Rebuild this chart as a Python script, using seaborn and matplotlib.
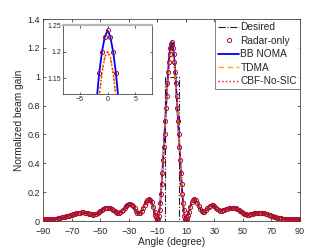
import numpy as np
import pandas as pd
import matplotlib
matplotlib.use("Agg")
import matplotlib.pyplot as plt
import seaborn as sns

# ── data ────────────────────────────────────────────────────────────────────
angle_left = np.arange(-90, -12, 1.0)      # -90 .. -13
angle_main = np.arange(-12, 12.5, 0.5)     # -12 .. 12
angle_right = np.arange(13, 91, 1.0)       # 13 .. 90

bb_left = [0.011, 0.011, 0.011, 0.012, 0.012, 0.013, 0.014, 0.015, 0.016, 0.017,
           0.019, 0.021, 0.023, 0.025, 0.027, 0.030, 0.032, 0.035, 0.038, 0.041,
           0.044, 0.047, 0.050, 0.053, 0.055, 0.057, 0.059, 0.060, 0.060, 0.059,
           0.057, 0.054, 0.051, 0.048, 0.046, 0.045, 0.046, 0.049, 0.054, 0.060,
           0.067, 0.074, 0.081, 0.087, 0.091, 0.093, 0.092, 0.088, 0.082, 0.075,
           0.068, 0.062, 0.058, 0.057, 0.060, 0.067, 0.077, 0.089, 0.101, 0.111,
           0.117, 0.118, 0.113, 0.102, 0.087, 0.071, 0.059, 0.054, 0.058, 0.071,
           0.090, 0.111, 0.130, 0.145, 0.152, 0.148, 0.130, 0.100]
bb_main = [0.063, 0.043, 0.025, 0.011, 0.004, 0.012, 0.035, 0.075, 0.125, 0.185,
           0.255, 0.335, 0.425, 0.515, 0.605, 0.695, 0.785, 0.870, 0.955, 1.035,
           1.105, 1.160, 1.200, 1.228, 1.240,
           1.228, 1.200, 1.160, 1.105, 1.035, 0.955, 0.870, 0.785, 0.695, 0.605,
           0.515, 0.425, 0.335, 0.255, 0.185, 0.125, 0.075, 0.035, 0.012, 0.004,
           0.011, 0.025, 0.043, 0.063]
bb_right = [0.100, 0.130, 0.148, 0.152, 0.145, 0.128, 0.106, 0.085, 0.070, 0.062,
            0.064, 0.074, 0.087, 0.099, 0.107, 0.110, 0.108, 0.101, 0.091, 0.081,
            0.074, 0.071, 0.072, 0.075, 0.079, 0.083, 0.086, 0.088, 0.090, 0.091,
            0.091, 0.090, 0.087, 0.082, 0.076, 0.069, 0.062, 0.055, 0.050, 0.047,
            0.045, 0.045, 0.046, 0.048, 0.051, 0.054, 0.056, 0.058, 0.059, 0.059,
            0.058, 0.056, 0.053, 0.050, 0.047, 0.043, 0.040, 0.036, 0.033, 0.030,
            0.027, 0.024, 0.022, 0.020, 0.018, 0.017, 0.016, 0.015, 0.014, 0.014,
            0.013, 0.013, 0.013, 0.012, 0.012, 0.012, 0.012, 0.012]

tdma_left = [0.012, 0.012, 0.012, 0.013, 0.013, 0.014, 0.015, 0.016, 0.017, 0.018,
             0.020, 0.022, 0.024, 0.026, 0.028, 0.031, 0.033, 0.036, 0.039, 0.042,
             0.045, 0.048, 0.051, 0.053, 0.055, 0.057, 0.058, 0.059, 0.059, 0.058,
             0.057, 0.055, 0.053, 0.051, 0.050, 0.050, 0.051, 0.053, 0.057, 0.062,
             0.068, 0.074, 0.080, 0.085, 0.088, 0.090, 0.089, 0.086, 0.081, 0.076,
             0.070, 0.066, 0.063, 0.063, 0.065, 0.070, 0.078, 0.088, 0.098, 0.106,
             0.111, 0.112, 0.108, 0.099, 0.087, 0.074, 0.064, 0.060, 0.063, 0.074,
             0.091, 0.110, 0.128, 0.142, 0.148, 0.145, 0.128, 0.100]
tdma_main = [0.065, 0.046, 0.029, 0.016, 0.010, 0.016, 0.038, 0.076, 0.125, 0.184,
             0.253, 0.332, 0.420, 0.510, 0.600, 0.690, 0.775, 0.855, 0.930, 1.000,
             1.065, 1.115, 1.160, 1.190, 1.200,
             1.190, 1.160, 1.115, 1.065, 1.000, 0.930, 0.855, 0.775, 0.690, 0.600,
             0.510, 0.420, 0.332, 0.253, 0.184, 0.125, 0.076, 0.038, 0.016, 0.010,
             0.016, 0.029, 0.046, 0.065]
tdma_right = [0.100, 0.127, 0.143, 0.147, 0.141, 0.126, 0.107, 0.089, 0.075, 0.068,
              0.069, 0.077, 0.089, 0.101, 0.110, 0.114, 0.113, 0.106, 0.096, 0.086,
              0.078, 0.074, 0.074, 0.076, 0.079, 0.082, 0.085, 0.087, 0.088, 0.088,
              0.088, 0.087, 0.085, 0.081, 0.076, 0.070, 0.064, 0.058, 0.053, 0.050,
              0.048, 0.048, 0.049, 0.050, 0.052, 0.054, 0.056, 0.057, 0.058, 0.058,
              0.057, 0.055, 0.053, 0.050, 0.047, 0.044, 0.041, 0.038, 0.035, 0.032,
              0.029, 0.026, 0.024, 0.022, 0.020, 0.018, 0.017, 0.016, 0.015, 0.015,
              0.014, 0.014, 0.014, 0.013, 0.013, 0.013, 0.013, 0.013]

desired_angle = [-90, -5, -5, 5, 5, 90]
desired_gain = [0, 0, 1, 1, 0, 0]

angle = np.concatenate([angle_left, angle_main, angle_right])
bb_noma = np.array(bb_left + bb_main + bb_right)
radar_only = bb_noma
tdma = np.array(tdma_left + tdma_main + tdma_right)
cbf_no_sic = tdma

xticks = [-90, -70, -50, -30, -10, 10, 30, 50, 70, 90]
yticks = [0, 0.2, 0.4, 0.6, 0.8, 1.0, 1.2, 1.4]
yticklabels = ["0", "0.2", "0.4", "0.6", "0.8", "1", "1.2", "1.4"]

# ── style ───────────────────────────────────────────────────────────────────
sns.set_theme(style="ticks")
plt.rcParams["font.family"] = ["Liberation Sans", "DejaVu Sans"]
plt.rcParams.update({
    "axes.edgecolor": "#262626", "axes.linewidth": 0.5,
    "xtick.direction": "in", "ytick.direction": "in",
    "xtick.top": True, "ytick.right": True,
    "xtick.major.size": 2.5, "ytick.major.size": 2.5,
    "xtick.major.width": 0.5, "ytick.major.width": 0.5,
    "xtick.color": "#262626", "ytick.color": "#262626",
})

C_DES, C_RAD, C_BB, C_TD, C_CBF = "#222222", "#a2142f", "#0000ff", "#ffa500", "#ff0000"


def draw_curves(ax, legend=False):
    sns.lineplot(x=desired_angle, y=desired_gain, ax=ax, sort=False, estimator=None,
                 color=C_DES, lw=0.8, ls="-.", label="Desired" if legend else None,
                 zorder=2)
    sns.lineplot(x=angle, y=radar_only, ax=ax, sort=False, estimator=None,
                 color=C_RAD, ls="none", marker="o", ms=3.0, mfc="none", mec=C_RAD,
                 mew=0.7, label="Radar-only" if legend else None, zorder=5)
    sns.lineplot(x=angle, y=bb_noma, ax=ax, sort=False, estimator=None,
                 color=C_BB, lw=1.3, label="BB NOMA" if legend else None, zorder=3)
    sns.lineplot(x=angle, y=tdma, ax=ax, sort=False, estimator=None,
                 color=C_TD, lw=1.0, ls=(0, (4, 2.5)), label="TDMA" if legend else None,
                 zorder=4)
    sns.lineplot(x=angle, y=cbf_no_sic, ax=ax, sort=False, estimator=None,
                 color=C_CBF, lw=1.0, ls=":", label="CBF-No-SIC" if legend else None,
                 zorder=6)


fig = plt.figure(figsize=(3.32, 2.49), dpi=100)
ax = fig.add_axes([0.1305, 0.1124, 0.773, 0.811])
draw_curves(ax, legend=True)
ax.set_xlim(-90, 90)
ax.set_ylim(0, 1.4)
ax.set_xticks(xticks)
ax.set_yticks(yticks)
ax.set_yticklabels(yticklabels)
ax.tick_params(axis="x", labelsize=6.5, pad=4)
ax.tick_params(axis="y", labelsize=6.5, pad=2.5)
ax.set_xlabel("Angle (degree)", fontsize=7.3, labelpad=1)
ax.set_ylabel("Normalized beam gain", fontsize=7.3, labelpad=2)
leg = ax.legend(loc="upper right", fontsize=7.3, frameon=True, fancybox=False,
                borderaxespad=0, borderpad=0.3, labelspacing=0.35,
                handlelength=2.0, handletextpad=0.15)
leg.get_frame().set_edgecolor("#262626")
leg.get_frame().set_linewidth(0.5)

# inset: zoom on the main-lobe peak
axin = fig.add_axes([0.190, 0.622, 0.268, 0.277])
draw_curves(axin)
axin.set_xlim(-8, 8)
axin.set_ylim(1.12, 1.25)
axin.set_xticks([-5, 0, 5])
axin.set_yticks([1.15, 1.2, 1.25])
axin.set_yticklabels(["1.15", "1.2", "1.25"])
axin.tick_params(labelsize=5, pad=1.5, length=1.8)
axin.spines["top"].set_color("#b8b8b8")
axin.spines["top"].set_linewidth(1.6)
axin.set_xlabel("")
axin.set_ylabel("")

fig.savefig("out.png", dpi=100, facecolor="white")
